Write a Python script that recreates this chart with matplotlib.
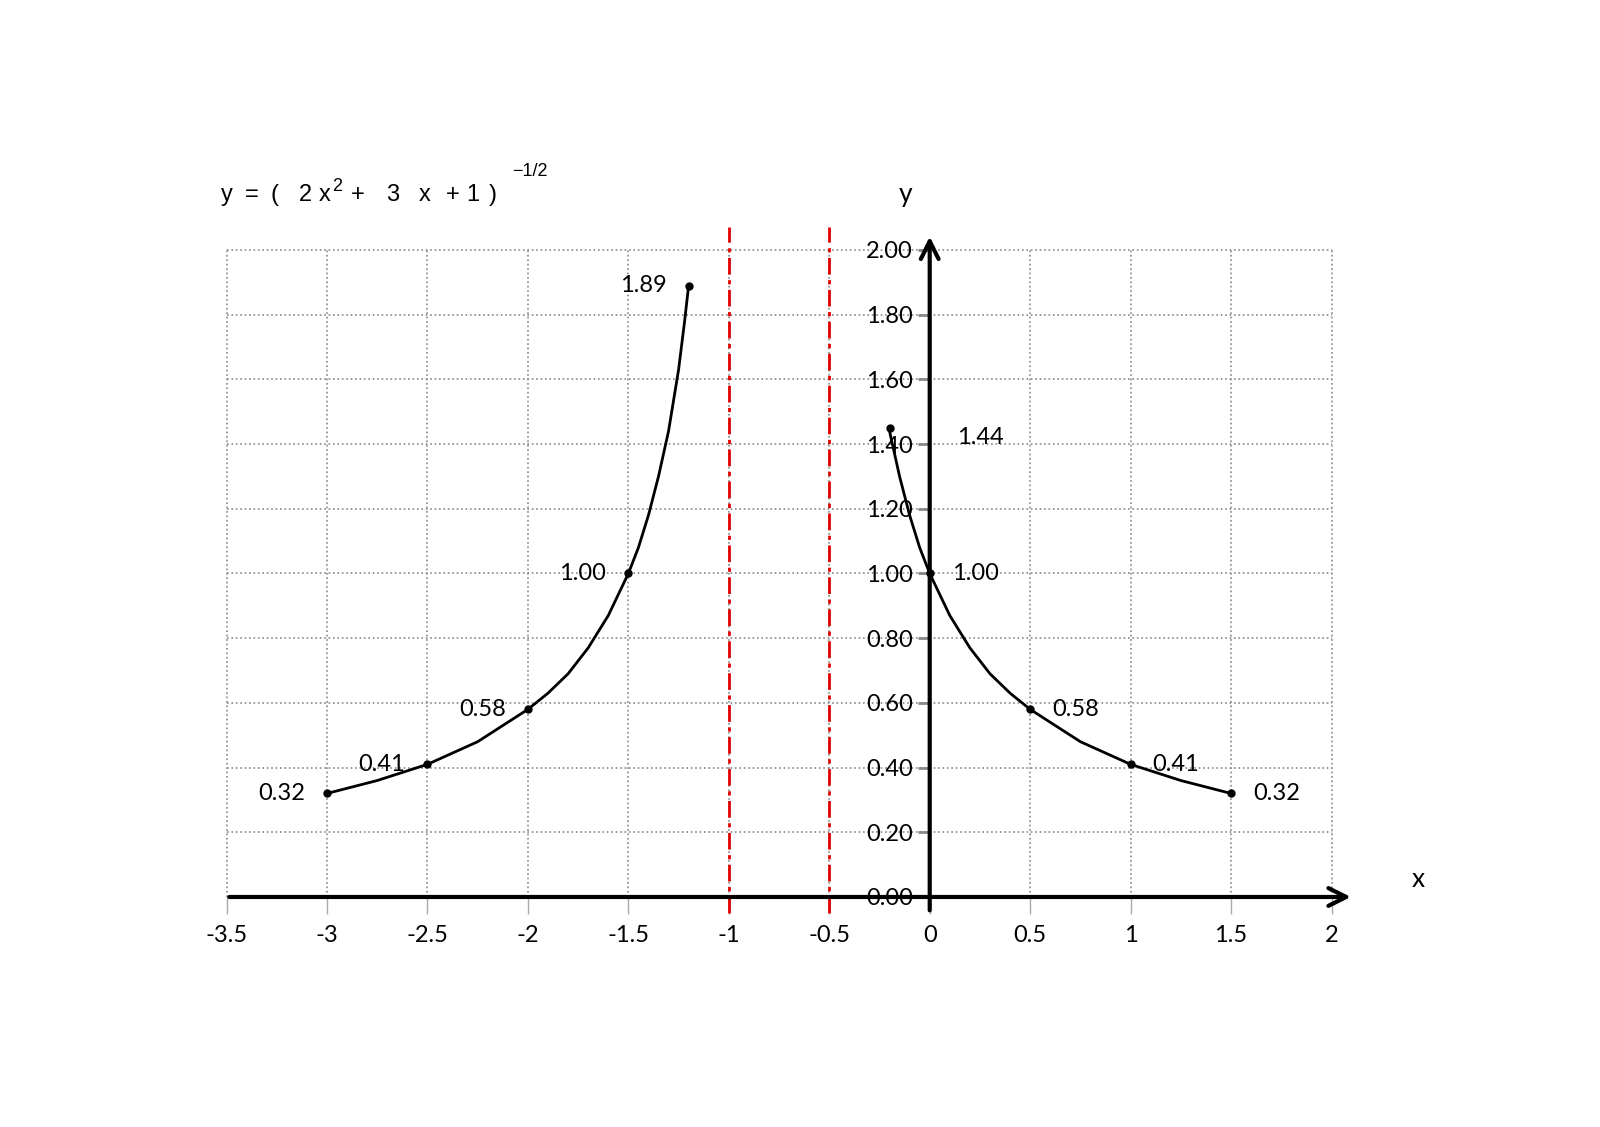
import matplotlib.pyplot as plt

# curve points
left_x = [-3.0, -2.75, -2.5, -2.25, -2.0, -1.9, -1.8, -1.7, -1.6, -1.5, -1.45, -1.4, -1.35, -1.3, -1.25, -1.22, -1.2]
left_y = [0.32, 0.36, 0.41, 0.48, 0.58, 0.63, 0.69, 0.77, 0.87, 1.00, 1.08, 1.18, 1.30, 1.44, 1.63, 1.78, 1.89]
right_x = [-0.2, -0.15, -0.1, -0.05, 0.0, 0.1, 0.2, 0.3, 0.4, 0.5, 0.75, 1.0, 1.25, 1.5]
right_y = [1.44, 1.30, 1.18, 1.08, 1.00, 0.87, 0.77, 0.69, 0.63, 0.58, 0.48, 0.41, 0.36, 0.32]

# marked points and their labels
left_pts_x = [-3.0, -2.5, -2.0, -1.5, -1.2]
left_pts_y = [0.32, 0.41, 0.58, 1.00, 1.89]
left_labels = ["0.32", "0.41", "0.58", "1.00", "1.89"]
right_pts_x = [0.0, 0.5, 1.0, 1.5]
right_pts_y = [1.00, 0.58, 0.41, 0.32]
right_labels = ["1.00", "0.58", "0.41", "0.32"]
top_pt = (-0.2, 1.45)
top_label = "1.44"

asymptotes = [-1.0, -0.5]
x_ticks = [-3.5, -3, -2.5, -2, -1.5, -1, -0.5, 0, 0.5, 1, 1.5, 2]
x_ticklabels = ["-3.5", "-3", "-2.5", "-2", "-1.5", "-1", "-0.5", "0", "0.5", "1", "1.5", "2"]
y_ticks = [0.0, 0.2, 0.4, 0.6, 0.8, 1.0, 1.2, 1.4, 1.6, 1.8, 2.0]

font = "Lato"

fig = plt.figure(figsize=(16, 11.27), dpi=100)
ax = fig.add_axes([0.1416, 0.2041, 0.6906, 0.5741])
ax.set_xlim(-3.5, 2)
ax.set_ylim(0, 2)

for s in ax.spines.values():
    s.set_visible(False)
ax.spines["left"].set_position(("data", 0))

ax.set_xticks(x_ticks)
ax.set_xticklabels(x_ticklabels, fontsize=17, family=font)
ax.set_yticks(y_ticks)
ax.set_yticklabels(["%.2f" % v for v in y_ticks], fontsize=17, family=font)
ax.tick_params(axis="x", length=12, width=1, color="#aaaaaa", pad=8, direction="out")
ax.tick_params(axis="y", length=9, width=2, color="#888888", pad=3, direction="out")
ax.grid(True, linestyle=":", color="#888888", linewidth=1.2)
for g in ax.get_xgridlines() + ax.get_ygridlines():
    g.set_clip_on(False)

# axes with arrows
ax.annotate("", xy=(2.11, 0), xytext=(-3.5, 0),
            arrowprops=dict(arrowstyle="->", lw=3, color="black", mutation_scale=32),
            annotation_clip=False)
ax.annotate("", xy=(0, 2.05), xytext=(0, -0.05),
            arrowprops=dict(arrowstyle="->", lw=3, color="black", mutation_scale=32),
            annotation_clip=False)
ax.text(-0.12, 2.17, "y", fontsize=19, family=font, ha="center", va="center")
ax.text(2.43, 0.054, "x", fontsize=19, family=font, ha="center", va="center")

# asymptotes
for a in asymptotes:
    ax.plot([a, a], [-0.05, 2.07], color="#e00000", lw=2, linestyle=(0, (6, 2, 1.5, 2)), clip_on=False)

# curve
ax.plot(left_x, left_y, color="black", lw=2)
ax.plot(right_x, right_y, color="black", lw=2)
ax.plot(left_pts_x + right_pts_x + [top_pt[0]], left_pts_y + right_pts_y + [top_pt[1]],
        "o", color="black", markersize=5)

for x, y, t in zip(left_pts_x, left_pts_y, left_labels):
    ax.annotate(t, (x, y), xytext=(-22, 0), textcoords="offset pixels",
                ha="right", va="center", fontsize=17, family=font)
for x, y, t in zip(right_pts_x, right_pts_y, right_labels):
    ax.annotate(t, (x, y), xytext=(22, 0), textcoords="offset pixels",
                ha="left", va="center", fontsize=17, family=font)
ax.text(0.137, 1.42, top_label, fontsize=17, family=font, ha="left", va="center")

# formula title, placed piece by piece
title_font = "Liberation Sans"
pieces = [("y", 221, 201, 17), ("=", 245, 201, 17), ("(", 270, 201, 17),
          ("2", 299, 201, 17), ("x", 319, 201, 17), ("2", 332, 191, 13),
          ("+", 351, 201, 17), ("3", 386, 201, 17), ("x", 419, 201, 17),
          ("+", 446, 201, 17), ("1", 466, 201, 17), (")", 489, 201, 17),
          ("\u22121/2", 512, 176, 13)]
for s, px, py, size in pieces:
    fig.text(px / 1600, 1 - py / 1127, s, fontsize=size, family=title_font,
             ha="left", va="baseline")

plt.savefig("out.png", dpi=100)
